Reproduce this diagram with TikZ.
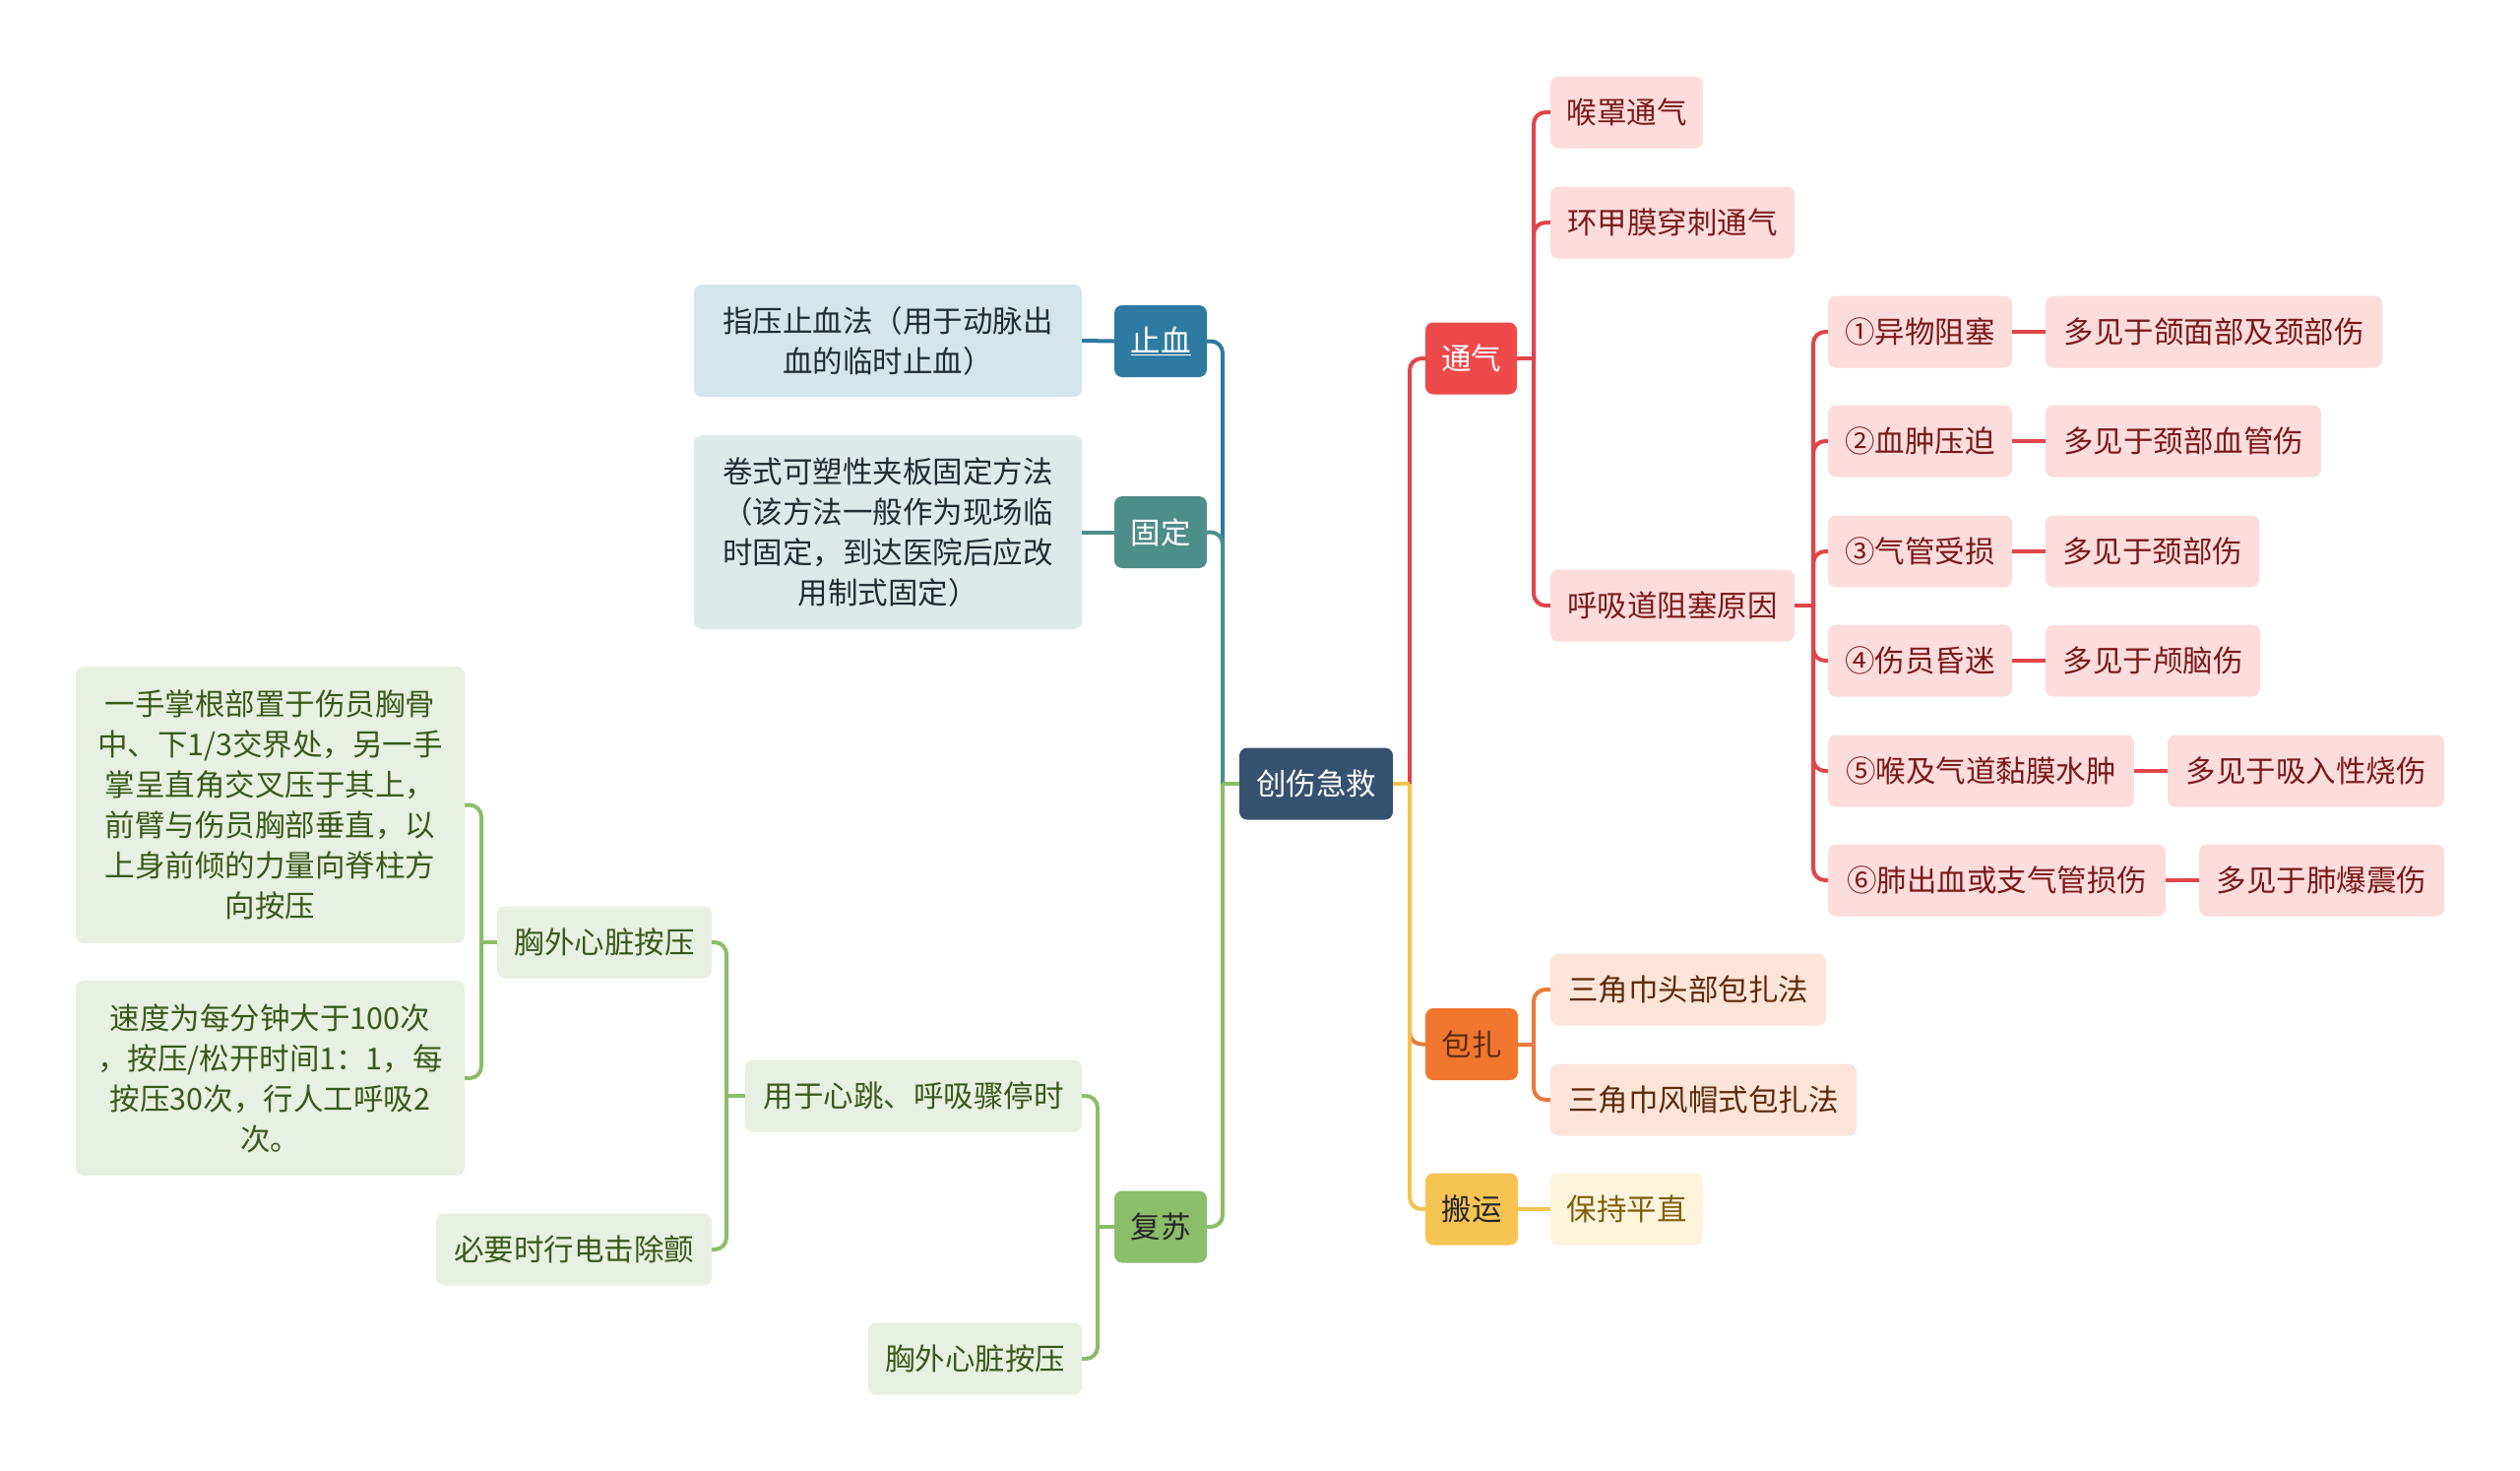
\documentclass[tikz,border=0pt]{standalone}
\usepackage{fontspec}
\setmainfont{Noto Sans CJK SC}
\definecolor{rootc}{HTML}{37526E}
\definecolor{redc}{HTML}{EE4A4C}
\definecolor{redl}{HTML}{E0454B}
\definecolor{redf}{HTML}{FDDCDC}
\definecolor{redt}{HTML}{7B1A1A}
\definecolor{orgc}{HTML}{F0772F}
\definecolor{orgl}{HTML}{EA7A3A}
\definecolor{orgf}{HTML}{FCE4D8}
\definecolor{orgt}{HTML}{5E2A0E}
\definecolor{ylwc}{HTML}{F6C453}
\definecolor{ylwl}{HTML}{F3C350}
\definecolor{ylwf}{HTML}{FEF4DC}
\definecolor{ylwt}{HTML}{7F6010}
\definecolor{bluc}{HTML}{2E7AA0}
\definecolor{bluf}{HTML}{D4E5EC}
\definecolor{tealc}{HTML}{4E8E8A}
\definecolor{tealf}{HTML}{DDEAE9}
\definecolor{grnc}{HTML}{8CBD6A}
\definecolor{grnf}{HTML}{E8F0E1}
\definecolor{grnt}{HTML}{375A1C}
\definecolor{darkt}{HTML}{1F2D33}
\begin{document}
\begin{tikzpicture}[x=1pt,y=-1pt,
  every node/.style={font=\fontsize{30.5}{41}\selectfont},
  box/.style={rounded corners=8pt, inner sep=0pt, minimum height=73pt, align=center},
  rootbox/.style={box, fill=rootc, text=white},
  redmain/.style={box, fill=redc, text=white},
  redsub/.style={box, fill=redf, text=redt},
  orgmain/.style={box, fill=orgc, text=orgt},
  orgsub/.style={box, fill=orgf, text=orgt},
  ylwmain/.style={box, fill=ylwc, text=black!85},
  ylwsub/.style={box, fill=ylwf, text=ylwt},
  blumain/.style={box, fill=bluc, text=white},
  blusub/.style={box, fill=bluf, text=darkt},
  tealmain/.style={box, fill=tealc, text=white},
  tealsub/.style={box, fill=tealf, text=darkt},
  grnmain/.style={box, fill=grnc, text=black!85},
  grnsub/.style={box, fill=grnf, text=grnt},
  conn/.style={line width=4pt, rounded corners=12pt},
]
\useasboundingbox (0,0) rectangle (2560,1494);

% trunk coordinates
\coordinate (tRoR) at (1432,0);
\coordinate (tRoL) at (1242,0);
\coordinate (tTq) at (1558,0);
\coordinate (tHx) at (1842,0);
\coordinate (tBz) at (1558,0);
\coordinate (tFs) at (1115,0);
\coordinate (tYy) at (738,0);
\coordinate (tXw) at (489,0);

% root
\node[rootbox, minimum width=156pt] (root) at (1337,796) {创伤急救};

% right side
\node[redmain, minimum width=93pt] (tq) at (1494.5,364) {通气};
\node[redsub, minimum width=155pt] (hz) at (1652.5,114) {喉罩通气};
\node[redsub, minimum width=248pt] (hj) at (1699,226) {环甲膜穿刺通气};
\node[redsub, minimum width=248pt] (hx) at (1699,615) {呼吸道阻塞原因};

\node[redsub, minimum width=187pt] (c1) at (1950.5,337) {①异物阻塞};
\node[redsub, minimum width=342pt] (d1) at (2249,337) {多见于颌面部及颈部伤};
\node[redsub, minimum width=187pt] (c2) at (1950.5,448) {②血肿压迫};
\node[redsub, minimum width=280pt] (d2) at (2218,448) {多见于颈部血管伤};
\node[redsub, minimum width=187pt] (c3) at (1950.5,560) {③气管受损};
\node[redsub, minimum width=217pt] (d3) at (2186.5,560) {多见于颈部伤};
\node[redsub, minimum width=187pt] (c4) at (1950.5,671) {④伤员昏迷};
\node[redsub, minimum width=218pt] (d4) at (2187,671) {多见于颅脑伤};
\node[redsub, minimum width=311pt] (c5) at (2012.5,783) {⑤喉及气道黏膜水肿};
\node[redsub, minimum width=281pt] (d5) at (2342.5,783) {多见于吸入性烧伤};
\node[redsub, minimum width=343pt] (c6) at (2028.5,894) {⑥肺出血或支气管损伤};
\node[redsub, minimum width=249pt] (d6) at (2358.5,894) {多见于肺爆震伤};

\node[orgmain, minimum width=94pt] (bz) at (1495,1060.5) {包扎};
\node[orgsub, minimum width=280pt] (b1) at (1715,1005) {三角巾头部包扎法};
\node[orgsub, minimum width=311pt] (b2) at (1730.5,1117) {三角巾风帽式包扎法};

\node[ylwmain, minimum width=94pt] (by) at (1495,1228) {搬运};
\node[ylwsub, minimum width=155pt] (bp) at (1652.5,1228) {保持平直};

% left side
\node[blumain, minimum width=94pt] (zx) at (1179,346.5) {\underline{止血}};
\node[blusub, minimum width=394pt, minimum height=114pt] (zy) at (902,346) {指压止血法（用于动脉出\\血的临时止血）};
\node[tealmain, minimum width=94pt] (gd) at (1179,540.5) {固定};
\node[tealsub, minimum width=394pt, minimum height=197pt] (jb) at (902,540.5) {卷式可塑性夹板固定方法\\（该方法一般作为现场临\\时固定，到达医院后应改\\用制式固定）};

\node[grnmain, minimum width=94pt] (fs) at (1179,1246) {复苏};
\node[grnsub, minimum width=342pt] (yy) at (928,1113) {用于心跳、呼吸骤停时};
\node[grnsub, minimum width=217pt] (xw2) at (990.5,1380) {胸外心脏按压};
\node[grnsub, minimum width=218pt] (xw1) at (614,957) {胸外心脏按压};
\node[grnsub, minimum width=280pt] (dj) at (583,1269) {必要时行电击除颤};
\node[grnsub, minimum width=395pt, minimum height=281pt] (ys) at (274.5,817.5) {一手掌根部置于伤员胸骨\\中、下1/3交界处，另一手\\掌呈直角交叉压于其上，\\前臂与伤员胸部垂直，以\\上身前倾的力量向脊柱方\\向按压};
\node[grnsub, minimum width=395pt, minimum height=198pt] (sd) at (274.5,1095) {速度为每分钟大于100次\\，按压/松开时间1：1，每\\按压30次，行人工呼吸2\\次。};

% connectors: root right
\draw[conn, redl] (root.east -| tRoR) |- (tq.west);
\draw[conn, orgl] (root.east -| tRoR) |- (bz.west);
\draw[conn, ylwl] (root.east -| tRoR) |- (by.west);
\draw[conn, ylwl] (root.east) -- (root.east -| tRoR);
% root left
\draw[conn, bluc] (root.west -| tRoL) |- (zx.east);
\draw[conn, tealc] (root.west -| tRoL) |- (gd.east);
\draw[conn, grnc] (root.west -| tRoL) |- (fs.east);
\draw[conn, grnc] (root.west) -- (root.west -| tRoL);

% 通气
\draw[conn, redl] (tq.east -| tTq) |- (hz.west);
\draw[conn, redl] (tq.east -| tTq) |- (hj.west);
\draw[conn, redl] (tq.east -| tTq) |- (hx.west);
\draw[conn, redl] (tq.east) -- (tq.east -| tTq);
% 呼吸道阻塞原因
\foreach \c in {c1,c2,c3,c4,c5,c6}{
  \draw[conn, redl] (hx.east -| tHx) |- (\c.west);
}
\draw[conn, redl] (hx.east) -- (hx.east -| tHx);
\draw[conn, redl] (c1.east) -- (d1.west);
\draw[conn, redl] (c2.east) -- (d2.west);
\draw[conn, redl] (c3.east) -- (d3.west);
\draw[conn, redl] (c4.east) -- (d4.west);
\draw[conn, redl] (c5.east) -- (d5.west);
\draw[conn, redl] (c6.east) -- (d6.west);
% 包扎
\draw[conn, orgl] (bz.east -| tBz) |- (b1.west);
\draw[conn, orgl] (bz.east -| tBz) |- (b2.west);
\draw[conn, orgl] (bz.east) -- (bz.east -| tBz);
% 搬运
\draw[conn, ylwl] (by.east) -- (bp.west);

% 止血 / 固定
\draw[conn, bluc] (zy.east) -- (zx.west);
\draw[conn, tealc] (jb.east) -- (gd.west);

% 复苏
\draw[conn, grnc] (fs.west -| tFs) |- (yy.east);
\draw[conn, grnc] (fs.west -| tFs) |- (xw2.east);
\draw[conn, grnc] (fs.west) -- (fs.west -| tFs);
% 用于心跳
\draw[conn, grnc] (yy.west -| tYy) |- (xw1.east);
\draw[conn, grnc] (yy.west -| tYy) |- (dj.east);
\draw[conn, grnc] (yy.west) -- (yy.west -| tYy);
% 胸外心脏按压
\draw[conn, grnc] (xw1.west -| tXw) |- (ys.east);
\draw[conn, grnc] (xw1.west -| tXw) |- (sd.east);
\draw[conn, grnc] (xw1.west) -- (xw1.west -| tXw);
\end{tikzpicture}
\end{document}
